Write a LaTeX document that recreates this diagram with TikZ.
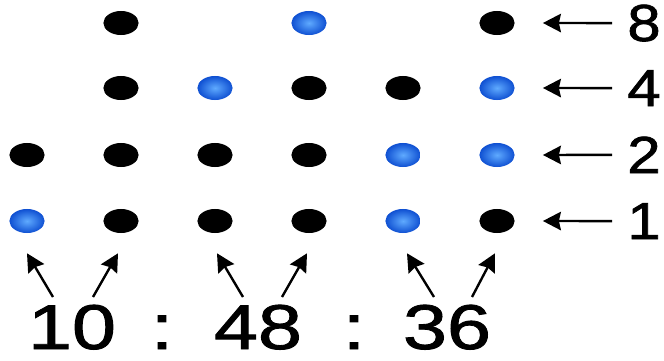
\documentclass[tikz,border=0pt]{standalone}
\usepackage{fontspec}
\setmainfont{Liberation Sans}
\newfontfamily\heavyfont[FakeBold=1.3]{Liberation Sans}
\usepackage{tikz}
\usetikzlibrary{calc,arrows.meta,shapes.geometric}
\definecolor{clockBlue}{RGB}{15,80,210}
\definecolor{clockBlueLight}{RGB}{95,170,255}

\begin{document}
\begin{tikzpicture}[x=0.025cm,y=-0.025cm,
    dot/.style={ellipse, inner sep=0pt, minimum width=0.88cm, minimum height=0.6cm},
    darkdot/.style={dot, fill=black},
    litdot/.style={dot, shading=radial, inner color=clockBlueLight, outer color=clockBlue},
    ptr/.style={line width=1.7pt, -{Stealth[length=0.45cm,width=0.46cm,inset=0.05cm]}},
    bitlabel/.style={anchor=base, inner sep=0pt, xscale=1.15, font=\heavyfont\fontsize{37}{40}\selectfont},
    timelabel/.style={anchor=base, inner sep=0pt, xscale=1.25, font=\heavyfont\fontsize{45}{50}\selectfont}]
    \useasboundingbox (0,0) rectangle (664,361);
    % hours
    \node[litdot]  (b01) at (27,221) {};
    \node[darkdot] (b02) at (27,155) {};
    \node[darkdot] (b11) at (121,221) {};
    \node[darkdot] (b12) at (121,155) {};
    \node[darkdot] (b14) at (121,88) {};
    \node[darkdot] (b18) at (121,23) {};
    % minutes
    \node[darkdot] (b21) at (215,221) {};
    \node[darkdot] (b22) at (215,155) {};
    \node[litdot]  (b24) at (215,88) {};
    \node[darkdot] (b31) at (309,221) {};
    \node[darkdot] (b32) at (309,155) {};
    \node[darkdot] (b34) at (309,88) {};
    \node[litdot]  (b38) at (309,23) {};
    % seconds
    \node[litdot]  (b41) at (403,221) {};
    \node[litdot]  (b42) at (403,155) {};
    \node[darkdot] (b44) at (403,88) {};
    \node[darkdot] (b51) at (497,221) {};
    \node[litdot]  (b52) at (497,155) {};
    \node[litdot]  (b54) at (497,88) {};
    \node[darkdot] (b58) at (497,23) {};
    % bit weights
    \node[bitlabel] (w8) at (644,41) {8};
    \node[bitlabel] (w4) at (644,106) {4};
    \node[bitlabel] (w2) at (644,173) {2};
    \node[bitlabel] (w1) at (644,239) {1};
    \draw[ptr] ($(w8.west)+(-15,0)$) -- ($(b58.east)+(28,0)$);
    \draw[ptr] ($(w4.west)+(-15,0)$) -- ($(b54.east)+(28,0)$);
    \draw[ptr] ($(w2.west)+(-15,0)$) -- ($(b52.east)+(28,0)$);
    \draw[ptr] ($(w1.west)+(-15,0)$) -- ($(b51.east)+(28,0)$);
    % time readout
    \node[timelabel] (hh) at (72,349) {10};
    \node[timelabel] (c1) at (162,349) {:};
    \node[timelabel] (mm) at (258,349) {48};
    \node[timelabel] (c2) at (354,349) {:};
    \node[timelabel] (ss) at (447,349) {36};
    \draw[ptr] ($(hh.base)+(-19,-52)$) -- ($(b01.south)+(0,20)$);
    \draw[ptr] ($(hh.base)+(21,-52)$) -- ($(b11.south)+(-3,20)$);
    \draw[ptr] ($(mm.base)+(-15,-52)$) -- ($(b21.south)+(2,20)$);
    \draw[ptr] ($(mm.base)+(24,-52)$) -- ($(b31.south)+(-2,20)$);
    \draw[ptr] ($(ss.base)+(-13,-52)$) -- ($(b41.south)+(4,20)$);
    \draw[ptr] ($(ss.base)+(25,-52)$) -- ($(b51.south)+(-2,20)$);
\end{tikzpicture}
\end{document}
